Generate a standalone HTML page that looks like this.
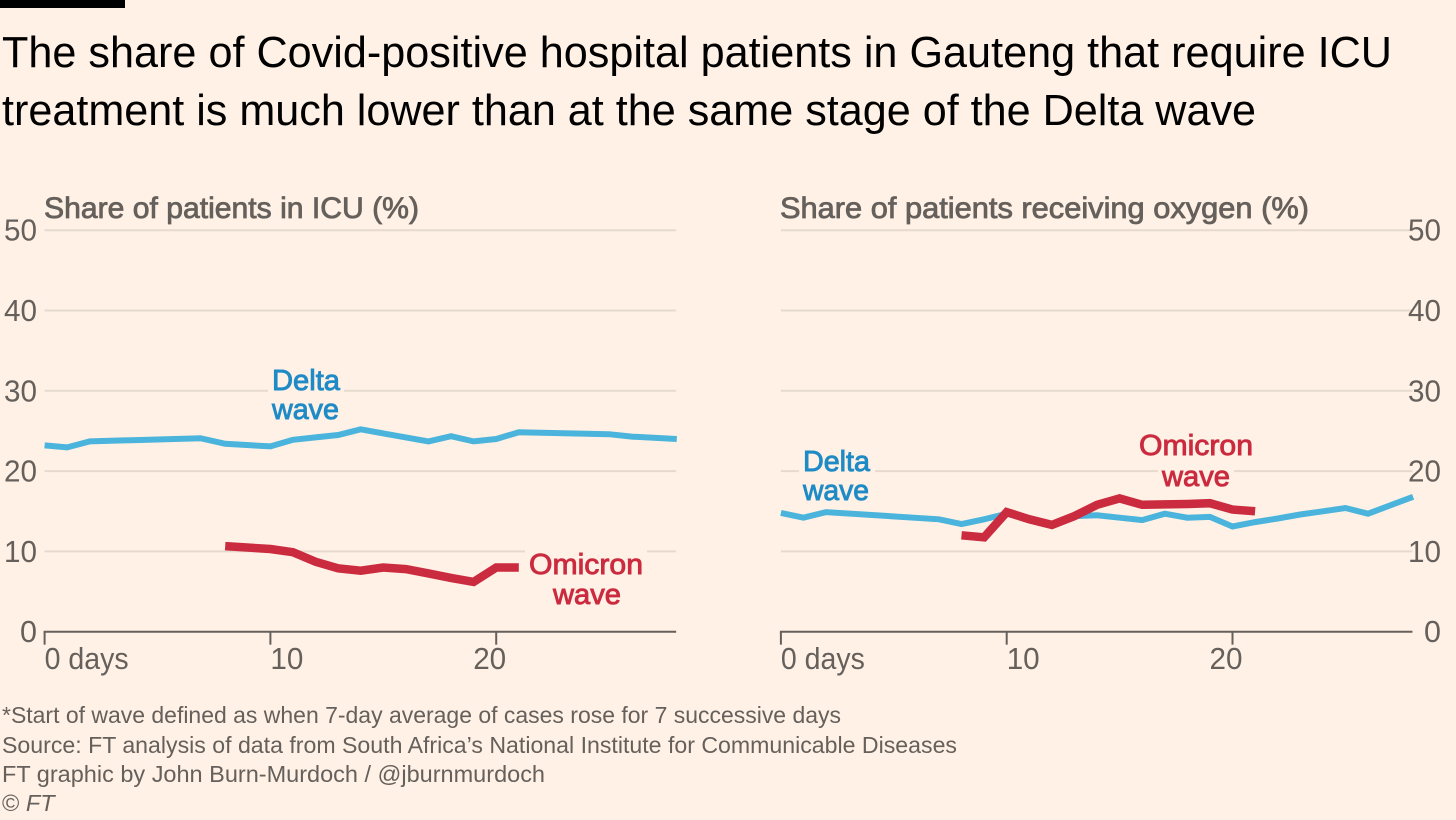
<!DOCTYPE html>
<html lang="en">
<head>
<meta charset="utf-8">
<title>Share of Covid-positive hospital patients in Gauteng</title>
<style>
html,body{margin:0;padding:0;background:#fff1e5;width:1456px;height:820px;overflow:hidden}
svg{display:block}
text{font-family:"Liberation Sans",sans-serif}
.title{font-size:44px;fill:#000}
.sub{font-size:29.5px;fill:#66605c;stroke:#66605c;stroke-width:.8px}
.foot{font-size:23.5px;fill:#66605c}
.tick{font-size:30.5px;fill:#66605c}
.lab{font-size:29px;stroke-width:.9px}
</style>
</head>
<body>
<svg id="chart" width="1456" height="820" viewBox="0 0 1456 820" xmlns="http://www.w3.org/2000/svg">
<rect x="0" y="0" width="1456" height="820" fill="#fff1e5"/>
<rect x="0" y="0" width="125" height="8" fill="#000"/>
<text class="title" x="2" y="67" textLength="1390" lengthAdjust="spacingAndGlyphs">The share of Covid-positive hospital patients in Gauteng that require ICU</text>
<text class="title" x="2" y="125" textLength="1254" lengthAdjust="spacingAndGlyphs">treatment is much lower than at the same stage of the Delta wave</text>
<text class="sub" x="44" y="218" textLength="375" lengthAdjust="spacingAndGlyphs">Share of patients in ICU (%)</text>
<text class="sub" x="780" y="218" textLength="529" lengthAdjust="spacingAndGlyphs">Share of patients receiving oxygen (%)</text>
<g id="left-panel"></g>
<g id="right-panel"></g>
<text class="foot" x="2" y="723" textLength="839" lengthAdjust="spacingAndGlyphs">*Start of wave defined as when 7-day average of cases rose for 7 successive days</text>
<text class="foot" x="2" y="753" textLength="955" lengthAdjust="spacingAndGlyphs">Source: FT analysis of data from South Africa’s National Institute for Communicable Diseases</text>
<text class="foot" x="2" y="782" textLength="543" lengthAdjust="spacingAndGlyphs">FT graphic by John Burn-Murdoch / @jburnmurdoch</text>
<text class="foot" x="2" y="811">© <tspan font-style="italic">FT</tspan></text>
</svg>
<script>
var yTicks = [0, 10, 20, 30, 40, 50];
var xTicks = [0, 10, 20];
var xTickLabels = ['0 days', '10', '20'];

var icuDeltaDays = [0, 1, 2, 6.9, 8, 10, 11, 12, 13, 14, 15, 16, 17, 18, 19, 20, 21, 25, 26, 28];
var icuDeltaValues = [23.2, 22.95, 23.7, 24.1, 23.4, 23.07, 23.9, 24.2, 24.5, 25.2, 24.7, 24.2, 23.7, 24.35, 23.7, 24.0, 24.85, 24.6, 24.3, 24.0];
var icuOmicronDays = [8, 10, 11, 12, 13, 14, 15, 16, 17, 18, 19, 20, 21];
var icuOmicronValues = [10.66, 10.3, 9.9, 8.7, 7.9, 7.6, 8.0, 7.8, 7.26, 6.7, 6.2, 8.0, 8.0];

var oxygenDeltaDays = [0, 1, 2, 7, 8, 9, 10, 11, 12, 13, 14, 15, 16, 17, 18, 19, 20, 21, 22, 23, 24, 25, 26, 28];
var oxygenDeltaValues = [14.8, 14.2, 14.9, 14.0, 13.4, 14.0, 14.7, 14.0, 13.3, 14.4, 14.5, 14.2, 13.9, 14.7, 14.2, 14.3, 13.1, 13.65, 14.1, 14.6, 15.0, 15.4, 14.7, 16.8];
var oxygenOmicronDays = [8, 9, 10, 11, 12, 13, 14, 15, 16, 17, 18, 19, 20, 21];
var oxygenOmicronValues = [12.0, 11.75, 14.9, 14.0, 13.3, 14.4, 15.8, 16.6, 15.8, 15.85, 15.9, 16.0, 15.2, 15.0];

var SVGNS = 'http://www.w3.org/2000/svg';
var Y0 = 631.7, PX_PER_UNIT = 8.03, PX_PER_DAY = 22.58, MAX_DAY = 27.97;
function yScale(v) { return Y0 - v * PX_PER_UNIT; }

function shape(parent, tag, attrs) {
  var el = document.createElementNS(SVGNS, tag);
  for (var k in attrs) el.setAttribute(k, attrs[k]);
  parent.appendChild(el);
  return el;
}
function linePoints(days, values, xScale) {
  return days.map(function (d, i) { return xScale(d).toFixed(1) + ',' + yScale(values[i]).toFixed(1); }).join(' ');
}
function label(parent, str, x, y, w, color) {
  var el = shape(parent, 'text', {
    'class': 'lab', x: x, y: y, textLength: w, lengthAdjust: 'spacingAndGlyphs',
    fill: color, stroke: color
  });
  el.textContent = str;
  return el;
}

function drawPanel(group, x0, side, deltaDays, deltaValues, omicronDays, omicronValues) {
  function xScale(d) { return x0 + d * PX_PER_DAY; }
  var xEnd = xScale(MAX_DAY);

  yTicks.forEach(function (t) {
    if (t > 0) {
      var g = shape(group, 'line', { x1: x0, x2: xEnd, y1: yScale(t), y2: yScale(t), stroke: '#e6d9ce', 'stroke-width': 2 });
      
      
    }
    var tx = shape(group, 'text', { 'class': 'tick', x: side === 'left' ? 37 : 1441, y: yScale(t) + 10.5, 'text-anchor': 'end' });
    if (t > 0) { tx.setAttribute('textLength', 33); tx.setAttribute('lengthAdjust', 'spacingAndGlyphs'); }
    tx.textContent = t;
    
    
  });

  var axis = shape(group, 'line', { x1: x0 - 1, x2: xEnd, y1: Y0, y2: Y0, stroke: '#66605c', 'stroke-width': 2 });
  
  

  xTicks.forEach(function (t, i) {
    var m = shape(group, 'line', { x1: xScale(t), x2: xScale(t), y1: Y0, y2: Y0 + 13, stroke: '#66605c', 'stroke-width': 2 });
    
    
    var dx = t === 20 ? -23 : 0;
    var lab = shape(group, 'text', {
      'class': 'tick', x: xScale(t) + dx, y: 669,
      textLength: t === 0 ? 84 : 33, lengthAdjust: 'spacingAndGlyphs'
    });
    lab.textContent = xTickLabels[i];
    
    
  });

  var delta = shape(group, 'polyline', {
    points: linePoints(deltaDays, deltaValues, xScale),
    fill: 'none', stroke: '#4bb4dc', 'stroke-width': 6, 'stroke-linejoin': 'miter'
  });
  
  

  var omicron = shape(group, 'polyline', {
    points: linePoints(omicronDays, omicronValues, xScale),
    fill: 'none', stroke: '#cb2b3f', 'stroke-width': 8.5, 'stroke-linejoin': 'miter'
  });
  
  
}

var leftGroup = document.getElementById('left-panel');
var rightGroup = document.getElementById('right-panel');
drawPanel(leftGroup, 44.6, 'left', icuDeltaDays, icuDeltaValues, icuOmicronDays, icuOmicronValues);
drawPanel(rightGroup, 780.9, 'right', oxygenDeltaDays, oxygenDeltaValues, oxygenOmicronDays, oxygenOmicronValues);

function labelBg(parent, x, y, w, h) {
  return shape(parent, 'rect', { x: x, y: y, width: w, height: h, fill: '#fff1e5' });
}
var bg1 = labelBg(leftGroup, 268, 384, 76, 14);


var bg2 = labelBg(rightGroup, 799, 464, 76, 14);


var bg3 = labelBg(rightGroup, 1158, 464, 76, 14);


var bg4 = labelBg(leftGroup, 525, 545, 122, 14);



var l1 = label(leftGroup, 'Delta', 272, 390, 68, '#1f8bc6');


var l2 = label(leftGroup, 'wave', 272, 419, 67, '#1f8bc6');


var l3 = label(leftGroup, 'Omicron', 529, 574, 114, '#cb2b3f');


var l4 = label(leftGroup, 'wave', 553, 604, 68, '#cb2b3f');


var r1 = label(rightGroup, 'Delta', 803, 471, 67, '#1f8bc6');


var r2 = label(rightGroup, 'wave', 803, 500, 66, '#1f8bc6');


var r3 = label(rightGroup, 'Omicron', 1139, 455, 114, '#cb2b3f');


var r4 = label(rightGroup, 'wave', 1162, 486, 68, '#cb2b3f');


</script>
</body>
</html>
